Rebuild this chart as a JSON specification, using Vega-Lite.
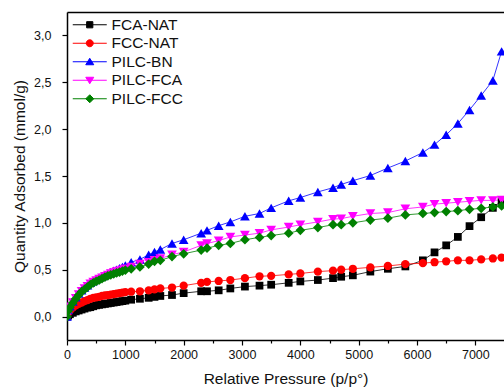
{
  "$schema": "https://vega.github.io/schema/vega-lite/v6.json",
  "width": 437,
  "height": 328,
  "autosize": "none",
  "padding": {"left": 67, "top": 12, "right": 0, "bottom": 47},
  "background": "white",
  "config": {
    "view": {"stroke": null},
    "font": "Liberation Sans",
    "axis": {"grid": false, "domainColor": "black", "domainWidth": 1.5, "tickColor": "black", "tickWidth": 1.2, "labelColor": "#111", "titleColor": "#111", "labelFont": "Liberation Sans", "titleFont": "Liberation Sans", "titleFontWeight": "normal"},
    "legend": {"title": null, "orient": "none", "legendX": 15, "legendY": 5, "padding": 0,
      "labelFontSize": 15.5, "labelFont": "Liberation Sans", "labelColor": "#111", "labelOffset": 14, "rowPadding": 1.5,
      "symbolSize": 100, "symbolStrokeWidth": 1}
  },
  "data": {"values": [
    {"x": 0, "FCA-NAT": 0, "FCC-NAT": 0, "PILC-BN": 0, "PILC-FCA": 0, "PILC-FCC": 0},
    {"x": 20, "FCA-NAT": 0.01, "FCC-NAT": 0.04, "PILC-BN": 0.07, "PILC-FCA": 0.065, "PILC-FCC": 0.06},
    {"x": 50, "FCA-NAT": 0.025, "FCC-NAT": 0.065, "PILC-BN": 0.11, "PILC-FCA": 0.105, "PILC-FCC": 0.10},
    {"x": 100, "FCA-NAT": 0.04, "FCC-NAT": 0.095, "PILC-BN": 0.16, "PILC-FCA": 0.15, "PILC-FCC": 0.145},
    {"x": 150, "FCA-NAT": 0.055, "FCC-NAT": 0.12, "PILC-BN": 0.205, "PILC-FCA": 0.195, "PILC-FCC": 0.19},
    {"x": 200, "FCA-NAT": 0.065, "FCC-NAT": 0.135, "PILC-BN": 0.245, "PILC-FCA": 0.235, "PILC-FCC": 0.23},
    {"x": 250, "FCA-NAT": 0.075, "FCC-NAT": 0.15, "PILC-BN": 0.28, "PILC-FCA": 0.27, "PILC-FCC": 0.265},
    {"x": 300, "FCA-NAT": 0.085, "FCC-NAT": 0.165, "PILC-BN": 0.31, "PILC-FCA": 0.30, "PILC-FCC": 0.29},
    {"x": 350, "FCA-NAT": 0.095, "FCC-NAT": 0.175, "PILC-BN": 0.335, "PILC-FCA": 0.325, "PILC-FCC": 0.315},
    {"x": 400, "FCA-NAT": 0.10, "FCC-NAT": 0.19, "PILC-BN": 0.36, "PILC-FCA": 0.35, "PILC-FCC": 0.34},
    {"x": 450, "FCA-NAT": 0.11, "FCC-NAT": 0.20, "PILC-BN": 0.38, "PILC-FCA": 0.37, "PILC-FCC": 0.36},
    {"x": 500, "FCA-NAT": 0.12, "FCC-NAT": 0.205, "PILC-BN": 0.40, "PILC-FCA": 0.385, "PILC-FCC": 0.375},
    {"x": 550, "FCA-NAT": 0.125, "FCC-NAT": 0.21, "PILC-BN": 0.415, "PILC-FCA": 0.40, "PILC-FCC": 0.39},
    {"x": 600, "FCA-NAT": 0.13, "FCC-NAT": 0.22, "PILC-BN": 0.43, "PILC-FCA": 0.415, "PILC-FCC": 0.405},
    {"x": 650, "FCA-NAT": 0.135, "FCC-NAT": 0.225, "PILC-BN": 0.445, "PILC-FCA": 0.43, "PILC-FCC": 0.42},
    {"x": 700, "FCA-NAT": 0.14, "FCC-NAT": 0.23, "PILC-BN": 0.46, "PILC-FCA": 0.445, "PILC-FCC": 0.435},
    {"x": 750, "FCA-NAT": 0.145, "FCC-NAT": 0.235, "PILC-BN": 0.475, "PILC-FCA": 0.46, "PILC-FCC": 0.445},
    {"x": 800, "FCA-NAT": 0.15, "FCC-NAT": 0.24, "PILC-BN": 0.49, "PILC-FCA": 0.47, "PILC-FCC": 0.455},
    {"x": 850, "FCA-NAT": 0.155, "FCC-NAT": 0.245, "PILC-BN": 0.50, "PILC-FCA": 0.48, "PILC-FCC": 0.465},
    {"x": 900, "FCA-NAT": 0.16, "FCC-NAT": 0.25, "PILC-BN": 0.515, "PILC-FCA": 0.49, "PILC-FCC": 0.475},
    {"x": 950, "FCA-NAT": 0.165, "FCC-NAT": 0.255, "PILC-BN": 0.53, "PILC-FCA": 0.50, "PILC-FCC": 0.485},
    {"x": 1000, "FCA-NAT": 0.17, "FCC-NAT": 0.26, "PILC-BN": 0.545, "PILC-FCA": 0.51, "PILC-FCC": 0.495},
    {"x": 1100, "FCA-NAT": 0.18, "FCC-NAT": 0.265, "PILC-BN": 0.58, "PILC-FCA": 0.53, "PILC-FCC": 0.51},
    {"x": 1250, "FCA-NAT": 0.19, "FCC-NAT": 0.27, "PILC-BN": 0.61, "PILC-FCA": 0.56, "PILC-FCC": 0.53},
    {"x": 1400, "FCA-NAT": 0.20, "FCC-NAT": 0.28, "PILC-BN": 0.66, "PILC-FCA": 0.58, "PILC-FCC": 0.56},
    {"x": 1500, "FCA-NAT": 0.21, "FCC-NAT": 0.29, "PILC-BN": 0.69, "PILC-FCA": 0.60, "PILC-FCC": 0.59},
    {"x": 1600, "FCA-NAT": 0.22, "FCC-NAT": 0.30, "PILC-BN": 0.715, "PILC-FCA": 0.62, "PILC-FCC": 0.60},
    {"x": 1800, "FCA-NAT": 0.23, "FCC-NAT": 0.31, "PILC-BN": 0.78, "PILC-FCA": 0.66, "PILC-FCC": 0.64},
    {"x": 2000, "FCA-NAT": 0.25, "FCC-NAT": 0.33, "PILC-BN": 0.82, "PILC-FCA": 0.69, "PILC-FCC": 0.67},
    {"x": 2300, "FCA-NAT": 0.27, "FCC-NAT": 0.36, "PILC-BN": 0.89, "PILC-FCA": 0.76, "PILC-FCC": 0.71},
    {"x": 2400, "FCA-NAT": 0.27, "FCC-NAT": 0.37, "PILC-BN": 0.92, "PILC-FCA": 0.78, "PILC-FCC": 0.73},
    {"x": 2600, "FCA-NAT": 0.28, "FCC-NAT": 0.38, "PILC-BN": 0.97, "PILC-FCA": 0.81, "PILC-FCC": 0.76},
    {"x": 2800, "FCA-NAT": 0.30, "FCC-NAT": 0.39, "PILC-BN": 1.01, "PILC-FCA": 0.85, "PILC-FCC": 0.78},
    {"x": 3050, "FCA-NAT": 0.32, "FCC-NAT": 0.41, "PILC-BN": 1.07, "PILC-FCA": 0.87, "PILC-FCC": 0.82},
    {"x": 3300, "FCA-NAT": 0.33, "FCC-NAT": 0.43, "PILC-BN": 1.10, "PILC-FCA": 0.89, "PILC-FCC": 0.845},
    {"x": 3500, "FCA-NAT": 0.34, "FCC-NAT": 0.435, "PILC-BN": 1.16, "PILC-FCA": 0.925, "PILC-FCC": 0.865},
    {"x": 3800, "FCA-NAT": 0.36, "FCC-NAT": 0.45, "PILC-BN": 1.235, "PILC-FCA": 0.955, "PILC-FCC": 0.89},
    {"x": 4000, "FCA-NAT": 0.375, "FCC-NAT": 0.46, "PILC-BN": 1.27, "PILC-FCA": 0.98, "PILC-FCC": 0.92},
    {"x": 4300, "FCA-NAT": 0.39, "FCC-NAT": 0.48, "PILC-BN": 1.33, "PILC-FCA": 1.01, "PILC-FCC": 0.95},
    {"x": 4560, "FCA-NAT": 0.41, "FCC-NAT": 0.49, "PILC-BN": 1.375, "PILC-FCA": 1.04, "PILC-FCC": 0.98},
    {"x": 4700, "FCA-NAT": 0.425, "FCC-NAT": 0.50, "PILC-BN": 1.41, "PILC-FCA": 1.045, "PILC-FCC": 0.98},
    {"x": 4900, "FCA-NAT": 0.44, "FCC-NAT": 0.51, "PILC-BN": 1.45, "PILC-FCA": 1.07, "PILC-FCC": 1.00},
    {"x": 5200, "FCA-NAT": 0.48, "FCC-NAT": 0.525, "PILC-BN": 1.505, "PILC-FCA": 1.10, "PILC-FCC": 1.03},
    {"x": 5500, "FCA-NAT": 0.51, "FCC-NAT": 0.54, "PILC-BN": 1.585, "PILC-FCA": 1.11, "PILC-FCC": 1.05},
    {"x": 5800, "FCA-NAT": 0.535, "FCC-NAT": 0.56, "PILC-BN": 1.66, "PILC-FCA": 1.15, "PILC-FCC": 1.085},
    {"x": 6100, "FCA-NAT": 0.60, "FCC-NAT": 0.57, "PILC-BN": 1.75, "PILC-FCA": 1.17, "PILC-FCC": 1.10},
    {"x": 6300, "FCA-NAT": 0.685, "FCC-NAT": 0.58, "PILC-BN": 1.835, "PILC-FCA": 1.20, "PILC-FCC": 1.11},
    {"x": 6500, "FCA-NAT": 0.76, "FCC-NAT": 0.59, "PILC-BN": 1.94, "PILC-FCA": 1.21, "PILC-FCC": 1.12},
    {"x": 6700, "FCA-NAT": 0.85, "FCC-NAT": 0.60, "PILC-BN": 2.06, "PILC-FCA": 1.22, "PILC-FCC": 1.13},
    {"x": 6900, "FCA-NAT": 0.965, "FCC-NAT": 0.60, "PILC-BN": 2.205, "PILC-FCA": 1.23, "PILC-FCC": 1.145},
    {"x": 7100, "FCA-NAT": 1.06, "FCC-NAT": 0.61, "PILC-BN": 2.36, "PILC-FCA": 1.24, "PILC-FCC": 1.155},
    {"x": 7300, "FCA-NAT": 1.16, "FCC-NAT": 0.62, "PILC-BN": 2.52, "PILC-FCA": 1.24, "PILC-FCC": 1.17},
    {"x": 7450, "FCA-NAT": 1.235, "FCC-NAT": 0.63, "PILC-BN": 2.83, "PILC-FCA": 1.245, "PILC-FCC": 1.18}
  ]},
  "transform": [{"fold": ["FCA-NAT", "FCC-NAT", "PILC-BN", "PILC-FCA", "PILC-FCC"], "as": ["key", "value"]}],
  "resolve": {"axis": {"x": "independent"}},
  "layer": [
    {
      "mark": {"type": "line", "strokeWidth": 0.8, "clip": true},
      "encoding": {
        "x": {"field": "x", "type": "quantitative", "scale": {"domain": [0, 7491], "nice": false, "zero": false},
          "axis": {"values": [0, 500, 1000, 1500, 2000, 2500, 3000, 3500, 4000, 4500, 5000, 5500, 6000, 6500, 7000],
            "format": "d",
            "labelExpr": "datum.value % 1000 === 0 ? datum.label : ''",
            "tickSize": {"condition": {"test": "datum.value % 1000 !== 0", "value": 3}, "value": 5},
            "labelFontSize": 12.5, "labelPadding": 3, "labelFlush": false,
            "title": "Relative Pressure (p/p°)", "titleFontSize": 15.5, "titlePadding": 11}},
        "y": {"field": "value", "type": "quantitative", "scale": {"domain": [-0.25, 3.25], "nice": false, "zero": false},
          "axis": {"values": [0, 0.25, 0.5, 0.75, 1, 1.25, 1.5, 1.75, 2, 2.25, 2.5, 2.75, 3],
            "labelExpr": "(datum.value * 2) % 1 === 0 ? replace(format(datum.value, '.1f'), '.', ',') : ''",
            "tickSize": {"condition": {"test": "(datum.value * 2) % 1 !== 0", "value": 3}, "value": 5},
            "labelFontSize": 12.5, "labelPadding": 11, "labelFlush": false,
            "title": "Quantity Adsorbed (mmol/g)", "titleFontSize": 15.5, "titlePadding": 6}},
        "color": {"field": "key", "type": "nominal",
          "scale": {"domain": ["FCA-NAT", "FCC-NAT", "PILC-BN", "PILC-FCA", "PILC-FCC"], "range": ["#000000", "#ff0000", "#0000ff", "#ff00ff", "#008000"]},
          "legend": {
            "encode": {"symbols": {"update": {
              "shape": {"signal": "datum.value === 'FCA-NAT' ? 'M-3.4,0H3.4M-0.62,-0.62H0.62V0.62H-0.62Z' : datum.value === 'FCC-NAT' ? 'M-3.4,0H3.4M-0.7,0A0.7,0.7,0,1,0,0.7,0A0.7,0.7,0,1,0,-0.7,0Z' : datum.value === 'PILC-BN' ? 'M-3.4,0H3.4M0,-0.7L0.8,0.6H-0.8Z' : datum.value === 'PILC-FCA' ? 'M-3.4,0H3.4M0,0.7L0.8,-0.6H-0.8Z' : 'M-3.4,0H3.4M0,-0.8L0.8,0L0,0.8L-0.8,0Z'"},
              "fill": {"signal": "scale('color', datum.value)"},
              "stroke": {"signal": "scale('color', datum.value)"},
              "strokeWidth": {"value": 1},
              "opacity": {"value": 1}
            }}}}},
        "detail": {"field": "key"}
      }
    },
    {
      "mark": {"type": "point", "filled": true, "opacity": 1, "clip": true},
      "encoding": {
        "x": {"field": "x", "type": "quantitative",
          "axis": {"orient": "top", "labels": false, "ticks": false, "title": null, "domain": true}},
        "y": {"field": "value", "type": "quantitative"},
        "color": {"field": "key", "type": "nominal",
          "scale": {"domain": ["FCA-NAT", "FCC-NAT", "PILC-BN", "PILC-FCA", "PILC-FCC"], "range": ["#000000", "#ff0000", "#0000ff", "#ff00ff", "#008000"]},
          "legend": {
            "encode": {"symbols": {"update": {
              "shape": {"signal": "datum.value === 'FCA-NAT' ? 'M-3.4,0H3.4M-0.62,-0.62H0.62V0.62H-0.62Z' : datum.value === 'FCC-NAT' ? 'M-3.4,0H3.4M-0.7,0A0.7,0.7,0,1,0,0.7,0A0.7,0.7,0,1,0,-0.7,0Z' : datum.value === 'PILC-BN' ? 'M-3.4,0H3.4M0,-0.7L0.8,0.6H-0.8Z' : datum.value === 'PILC-FCA' ? 'M-3.4,0H3.4M0,0.7L0.8,-0.6H-0.8Z' : 'M-3.4,0H3.4M0,-0.8L0.8,0L0,0.8L-0.8,0Z'"},
              "fill": {"signal": "scale('color', datum.value)"},
              "stroke": {"signal": "scale('color', datum.value)"},
              "strokeWidth": {"value": 1},
              "opacity": {"value": 1}
            }}}}},
        "shape": {"condition": [
            {"test": "datum.key === 'FCA-NAT'", "value": "square"},
            {"test": "datum.key === 'FCC-NAT'", "value": "circle"},
            {"test": "datum.key === 'PILC-BN'", "value": "triangle-up"},
            {"test": "datum.key === 'PILC-FCA'", "value": "triangle-down"}],
          "value": "diamond"},
        "size": {"condition": [
            {"test": "datum.key === 'FCA-NAT'", "value": 60},
            {"test": "datum.key === 'FCC-NAT'", "value": 68}],
          "value": 95},
        "order": {"field": "key", "sort": "ascending"}
      }
    }
  ]
}
